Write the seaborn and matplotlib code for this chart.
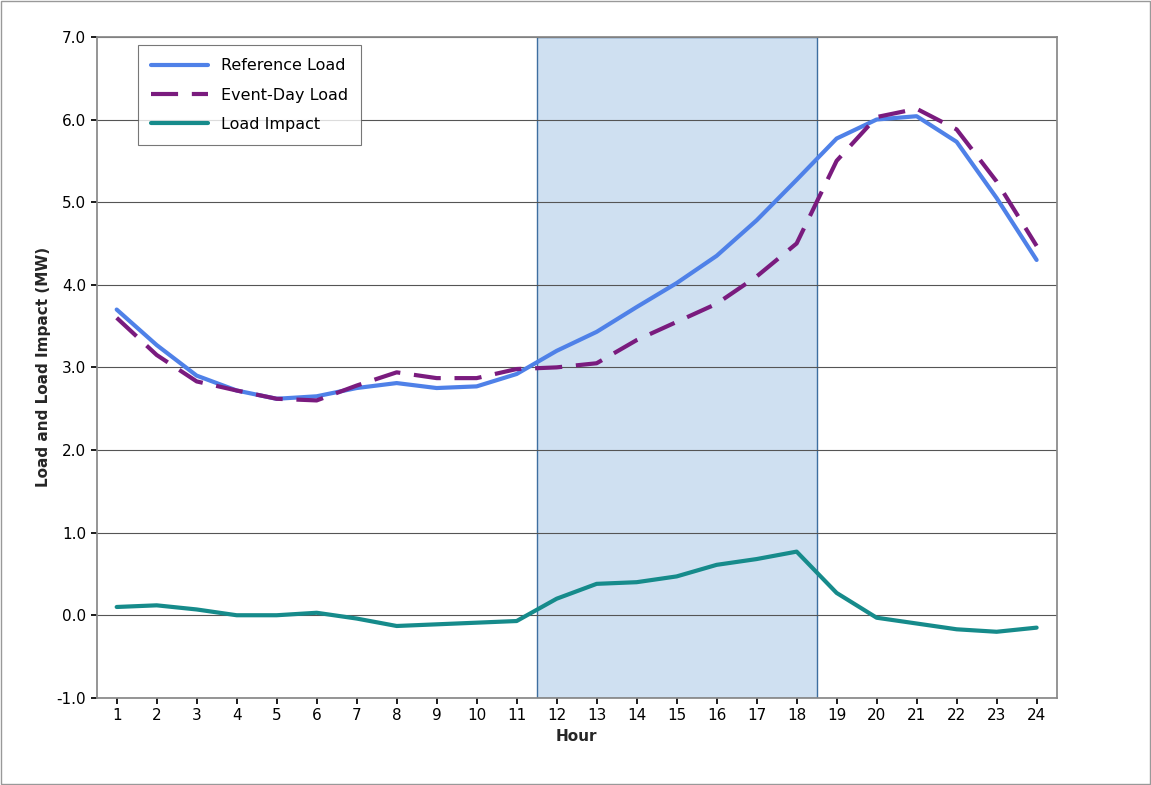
import matplotlib
matplotlib.use("Agg")
import matplotlib.pyplot as plt
import seaborn as sns
import pandas as pd

hours = list(range(1, 25))
reference_load = [3.7, 3.27, 2.9, 2.72, 2.62, 2.65, 2.75, 2.81, 2.75, 2.77, 2.92, 3.2,
                  3.43, 3.73, 4.02, 4.35, 4.78, 5.27, 5.77, 6.0, 6.04, 5.73, 5.05, 4.3]
event_load = [3.6, 3.15, 2.83, 2.72, 2.62, 2.6, 2.78, 2.94, 2.87, 2.87, 2.98, 3.0,
              3.05, 3.33, 3.55, 3.77, 4.1, 4.5, 5.5, 6.03, 6.13, 5.88, 5.25, 4.47]
load_impact = [0.1, 0.12, 0.07, 0.0, 0.0, 0.03, -0.04, -0.13, -0.11, -0.09, -0.07, 0.2,
               0.38, 0.4, 0.47, 0.61, 0.68, 0.77, 0.27, -0.03, -0.1, -0.17, -0.2, -0.15]
event_window = (12, 18)

sns.set_theme(style="white")
plt.rcParams['font.family'] = ['DejaVu Sans']
fig = plt.figure(figsize=(11.51, 7.85), dpi=100)
fig.patches.append(plt.Rectangle((0.001, 0.001), 0.998, 0.998, transform=fig.transFigure,
                                 fill=False, edgecolor="#999999", lw=1))
ax = fig.add_axes([0.084, 0.111, 0.834, 0.842])

df = pd.DataFrame({"Hour": hours, "ref": reference_load, "evt": event_load, "imp": load_impact})
ax.axvspan(event_window[0] - 0.5, event_window[1] + 0.5, facecolor="#cfe0f1",
           edgecolor="#3e6fa0", lw=1, zorder=0)
sns.lineplot(data=df, x="Hour", y="ref", ax=ax, color="#4f81e8", lw=3, label="Reference Load")
sns.lineplot(data=df, x="Hour", y="evt", ax=ax, color="#7a1b7e", lw=3, label="Event-Day Load")
ax.lines[-1].set_dashes((6.5, 3.3))
sns.lineplot(data=df, x="Hour", y="imp", ax=ax, color="#168b8b", lw=3, label="Load Impact")

ax.set_xlim(0.5, 24.5)
ax.set_ylim(-1, 7)
ax.set_xticks(hours)
ax.set_yticks(range(-1, 8))
ax.set_yticklabels([f"{v:.1f}" for v in range(-1, 8)])
ax.grid(axis="y", color="#555555", lw=0.8)
ax.set_axisbelow(True)
for s in ax.spines.values():
    s.set_color("#888888")
ax.tick_params(axis="both", labelsize=11, colors="black", length=4, direction="out",
               bottom=True, left=True)
ax.set_xlabel("Hour", fontsize=11, fontweight="bold")
ax.set_ylabel("Load and Load Impact (MW)", fontsize=11, fontweight="bold")
leg = ax.legend(loc="upper left", bbox_to_anchor=(0.043, 0.987), fontsize=11.5,
                frameon=True, fancybox=False, handlelength=3.6, labelspacing=0.9,
                borderpad=0.8, borderaxespad=0)
for t in leg.get_texts():
    t.set_color("black")
for h in leg.get_lines():
    pass
leg.get_lines()[1].set_dashes((6.5, 3.3))
leg.get_frame().set_edgecolor("#555555")
leg.get_frame().set_linewidth(0.8)
fig.savefig("out.png", dpi=100)
